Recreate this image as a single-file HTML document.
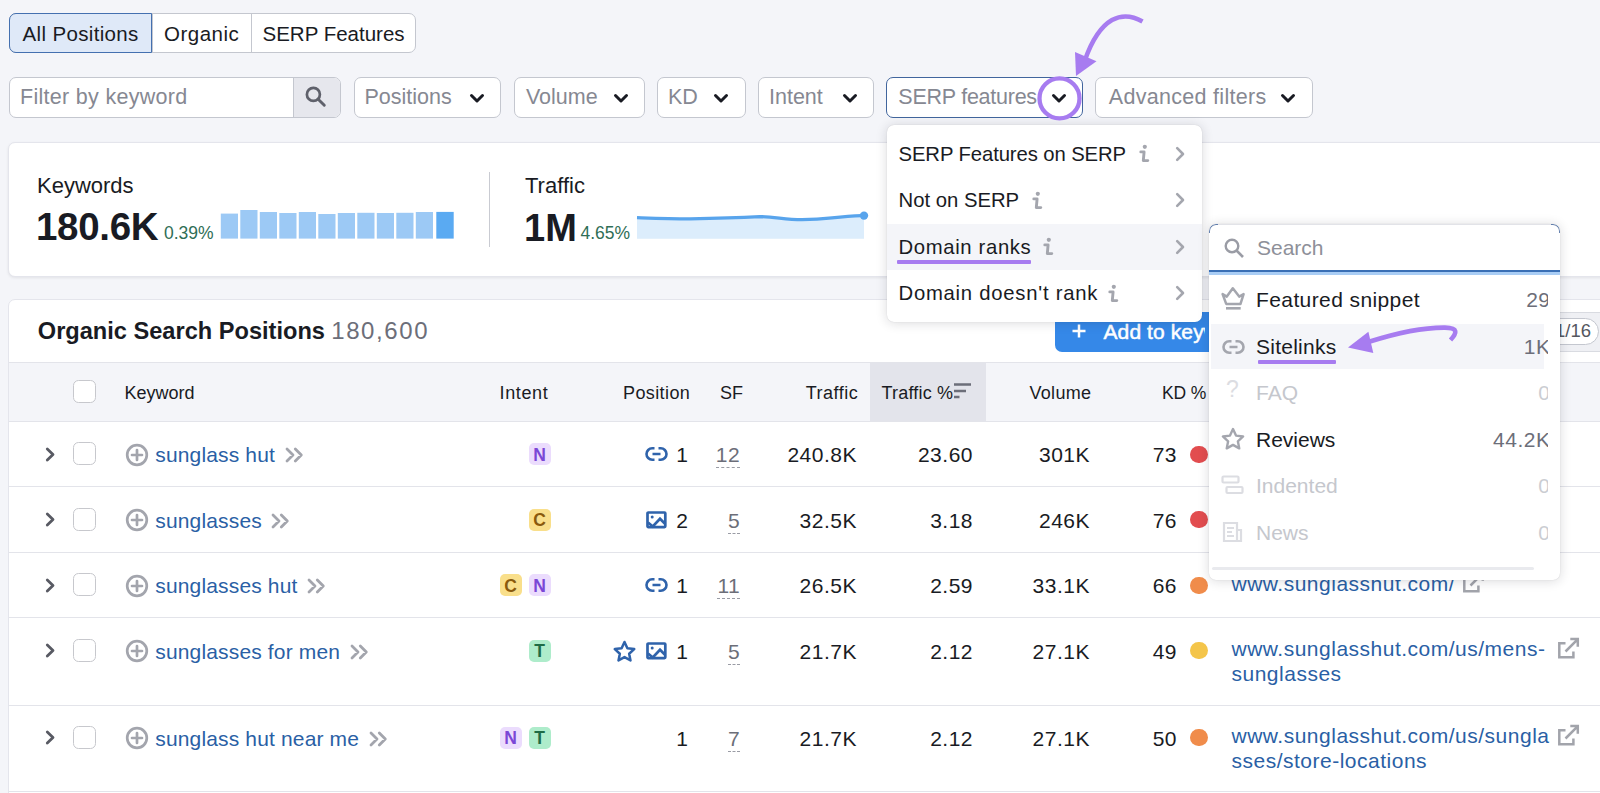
<!DOCTYPE html>
<html><head><meta charset="utf-8"><title>Organic Search Positions</title>
<style>
*{box-sizing:border-box;margin:0;padding:0}
html,body{width:1600px;height:793px;overflow:hidden}
body{background:#f4f5f9;font-family:"Liberation Sans",Arial,sans-serif;color:#191b23;position:relative;font-size:21px}
.abs{position:absolute}
.t{position:absolute;white-space:nowrap;line-height:1}
/* tabs */
.tabs{position:absolute;left:9px;top:12.5px;height:40.5px;display:flex;border:1px solid #c4c7cf;border-radius:7px;background:#fff;overflow:hidden}
.tabs div{display:flex;align-items:center;padding:3px 13px 0;font-size:20.5px;height:100%;border-left:1px solid #c4c7cf;white-space:nowrap}
.tabs div:first-child{border-left:none}
.tabs .on{background:#dfe9f8}
/* filters */
.fb{position:absolute;top:77px;height:40.5px;border:1px solid #c4c7cf;border-radius:7px;background:#fff;display:flex;align-items:center;color:#868892}
.fb span{position:absolute;left:10px;top:9.1px;line-height:21.5px;font-size:21.5px}
.chev{position:absolute;top:14.8px;width:16px;height:11px}
.card{position:absolute;background:#fff;border:1px solid #e4e5ec;border-radius:7px}
</style></head>
<body>
<!-- tabs -->
<div class="tabs">
  <div class="on" style="width:142px;padding-left:12.5px;letter-spacing:0.35px">All Positions</div>
  <div style="width:99px;padding-left:11px;letter-spacing:0.5px">Organic</div>
  <div style="width:164px;padding-left:10.5px">SERP Features</div>
</div>
<div class="abs" style="left:9px;top:12.5px;width:142.5px;height:40.5px;border:1.3px solid #4470b0;border-radius:7px 0 0 7px"></div>

<!-- filter row -->
<div class="fb" style="left:9px;width:332px;overflow:hidden">
  <span style="letter-spacing:0.3px">Filter by keyword</span>
  <div class="abs" style="left:282.5px;top:0;width:48px;height:38.5px;background:#e6e7ed;border-left:1.2px solid #c4c7cf"></div>
  <svg class="abs" style="left:294px;top:7.3px" width="23" height="23" viewBox="0 0 23 23"><circle cx="9.4" cy="9.4" r="6.5" fill="none" stroke="#5f616b" stroke-width="2.7"/><path d="M14.2 14.2 L20.3 20.3" stroke="#5f616b" stroke-width="2.9" stroke-linecap="round"/></svg>
</div>
<div class="fb" style="left:353.5px;width:147px"><span>Positions</span><svg class="chev" style="left:114.1px" viewBox="0 0 16 11"><path d="M2.5 2.5 L8 8 L13.5 2.5" fill="none" stroke="#191b23" stroke-width="3" stroke-linecap="round" stroke-linejoin="round"/></svg></div>
<div class="fb" style="left:513.5px;width:131px"><span style="left:11.4px">Volume</span><svg class="chev" style="left:98.1px" viewBox="0 0 16 11"><path d="M2.5 2.5 L8 8 L13.5 2.5" fill="none" stroke="#191b23" stroke-width="3" stroke-linecap="round" stroke-linejoin="round"/></svg></div>
<div class="fb" style="left:657px;width:89px"><span>KD</span><svg class="chev" style="left:55.3px" viewBox="0 0 16 11"><path d="M2.5 2.5 L8 8 L13.5 2.5" fill="none" stroke="#191b23" stroke-width="3" stroke-linecap="round" stroke-linejoin="round"/></svg></div>
<div class="fb" style="left:758px;width:116px"><span>Intent</span><svg class="chev" style="left:82.8px" viewBox="0 0 16 11"><path d="M2.5 2.5 L8 8 L13.5 2.5" fill="none" stroke="#191b23" stroke-width="3" stroke-linecap="round" stroke-linejoin="round"/></svg></div>
<div class="fb" style="left:886px;width:197px;border-color:#41659d"><span style="left:11.3px;letter-spacing:-0.25px">SERP features</span><svg class="chev" style="left:163.8px" viewBox="0 0 16 11"><path d="M2.5 2.5 L8 8 L13.5 2.5" fill="none" stroke="#191b23" stroke-width="3" stroke-linecap="round" stroke-linejoin="round"/></svg></div>
<div class="fb" style="left:1095px;width:217.5px"><span style="left:12.8px;letter-spacing:0.3px">Advanced filters</span><svg class="chev" style="left:184.4px" viewBox="0 0 16 11"><path d="M2.5 2.5 L8 8 L13.5 2.5" fill="none" stroke="#191b23" stroke-width="3" stroke-linecap="round" stroke-linejoin="round"/></svg></div>

<div class="card" style="left:7.5px;top:142px;width:1620px;height:134.5px;box-shadow:0 1px 3px rgba(0,0,0,.08)"></div>
<div class="t" style="left:37px;top:175px;font-size:22px">Keywords</div>
<div class="t" style="left:36px;top:208px;font-size:38.5px;font-weight:700;letter-spacing:-0.3px">180.6K</div>
<div class="t" style="left:164px;top:225px;font-size:17.5px;color:#2f6e56">0.39%</div>
<svg class="abs" style="left:220px;top:205px" width="236" height="36" viewBox="220 205 236 36">
  <g fill="#9cc9f5">
    <rect x="220.8" y="213.6" width="17.2" height="25"/>
    <rect x="240.3" y="210" width="17.2" height="28.6"/>
    <rect x="259.8" y="212" width="17.2" height="26.6"/>
    <rect x="279.3" y="213" width="17.2" height="25.6"/>
    <rect x="298.8" y="212" width="17.2" height="26.6"/>
    <rect x="318.3" y="214" width="17.2" height="24.6"/>
    <rect x="337.8" y="213" width="17.2" height="25.6"/>
    <rect x="357.3" y="212.8" width="17.2" height="25.8"/>
    <rect x="376.8" y="213" width="17.2" height="25.6"/>
    <rect x="396.3" y="212.8" width="17.2" height="25.8"/>
    <rect x="415.8" y="212" width="17.2" height="26.6"/>
  </g>
  <rect x="436.3" y="211.9" width="17.4" height="26.7" fill="#5aaaf2"/>
</svg>
<div class="abs" style="left:488.7px;top:171.5px;width:1.5px;height:75.5px;background:#c9cbd2"></div>
<div class="t" style="left:525px;top:175px;font-size:22px">Traffic</div>
<div class="t" style="left:524px;top:208.5px;font-size:38px;font-weight:700">1M</div>
<div class="t" style="left:580.5px;top:225px;font-size:17.5px;color:#2f6e56">4.65%</div>
<svg class="abs" style="left:630px;top:205px" width="245" height="40" viewBox="630 205 245 40">
  <path d="M637 217.7 C660 218.5 670 218.9 690 218.9 C720 218.3 740 217.6 759.7 216.6 C775 216.8 785 219.6 801.9 219.7 C815 219.6 822 219 832 217.8 C845 216.5 852 216 864 215.6 L864 238.8 L637 238.8 Z" fill="#dcedfc"/>
  <path d="M637 217.7 C660 218.5 670 218.9 690 218.9 C720 218.3 740 217.6 759.7 216.6 C775 216.8 785 219.6 801.9 219.7 C815 219.6 822 219 832 217.8 C845 216.5 852 216 862 215.6" fill="none" stroke="#58a4ec" stroke-width="3.3"/>
  <circle cx="864" cy="215.6" r="4.2" fill="#58a4ec"/>
</svg>
<div class="card" style="left:7.5px;top:298.5px;width:1620px;height:600px"></div>
<div class="t" style="top:319.52px;font-size:23.6px;left:37.80px;font-weight:700;letter-spacing:0px;">Organic Search Positions</div>
<div class="t" style="top:319.18px;font-size:24px;left:331.20px;color:#6c6e79;letter-spacing:1.6px;">180,600</div>
<div class="abs" style="left:1054.5px;top:311.5px;width:200px;height:40.5px;background:#3588e8;border-radius:7px"></div>
<svg class="abs" style="left:1071px;top:323.3px" width="16" height="16" viewBox="0 0 16 16"><path d="M8 1.5V14.5M1.5 8H14.5" stroke="#fff" stroke-width="2.5"/></svg>
<div class="abs" style="left:1095px;top:315px;width:109.5px;height:32px;overflow:hidden"><div class="t" style="top:6.02px;font-size:21px;left:8.50px;color:#fff;-webkit-text-stroke:0.5px #fff;letter-spacing:0.1px;">Add to keyword list</div></div>
<div class="abs" style="left:1520px;top:311.5px;width:120px;height:40px;background:#eff0f4;border:1px solid #d9dbe1;border-radius:6px"></div>
<div class="abs" style="left:1540px;top:317.8px;width:59px;height:27.5px;background:#fff;border:1px solid #c4c7cf;border-radius:14px"></div>
<div class="t" style="top:322.34px;font-size:18.5px;left:1555.00px;color:#55575f;">1/16</div>
<div class="abs" style="left:9px;top:362px;width:1600px;height:59.5px;background:#f4f5f9;border-top:1px solid #e3e4ea;border-bottom:1px solid #e3e4ea"></div>
<div class="abs" style="left:869.5px;top:363px;width:116px;height:57.5px;background:#e3e4eb"></div>
<div class="abs" style="left:72.9px;top:379.9px;width:22.8px;height:23px;border:1.6px solid #c7c8cd;border-radius:5.5px;background:#fff"></div>
<div class="t" style="top:384.26px;font-size:18px;left:124.50px;">Keyword</div>
<div class="t" style="top:384.26px;font-size:18px;left:499.60px;letter-spacing:0.6px;">Intent</div>
<div class="t" style="top:384.26px;font-size:18px;left:623.00px;letter-spacing:0.4px;">Position</div>
<div class="t" style="top:384.26px;font-size:18px;left:720.00px;">SF</div>
<div class="t" style="top:384.26px;font-size:18px;right:741.80px;text-align:right;letter-spacing:0.5px;">Traffic</div>
<div class="t" style="top:384.26px;font-size:18px;left:881.50px;letter-spacing:0.2px;">Traffic %</div>
<svg class="abs" style="left:953px;top:382px" width="20" height="18" viewBox="0 0 20 18"><path d="M1 2.5H18M1 9H13M1 15H6.5" stroke="#6c6e79" stroke-width="2.6"/></svg>
<div class="t" style="top:384.26px;font-size:18px;right:508.70px;text-align:right;letter-spacing:0.3px;">Volume</div>
<div class="t" style="top:384.69px;font-size:17.5px;right:394.00px;text-align:right;letter-spacing:-0.2px;">KD %</div>
<div class="abs" style="left:9px;top:486.0px;width:1600px;height:1.2px;background:#e3e4ea"></div>
<svg class="abs" style="left:45px;top:446.5px" width="11" height="15" viewBox="0 0 11 15"><path d="M2.3 2L8 7.5L2.3 13" fill="none" stroke="#585a63" stroke-width="2.8" stroke-linecap="round" stroke-linejoin="round"/></svg>
<div class="abs" style="left:72.9px;top:442.4px;width:22.8px;height:23px;border:1.6px solid #c7c8cd;border-radius:5.5px;background:#fff"></div>
<svg class="abs" style="left:125px;top:442.5px" width="24" height="24" viewBox="0 0 24 24"><circle cx="12" cy="12" r="9.8" fill="none" stroke="#a3a5ad" stroke-width="2.7"/><path d="M12 7V17M7 12H17" stroke="#a3a5ad" stroke-width="2.7" stroke-linecap="round"/></svg>
<div class="t" style="top:444.02px;font-size:21px;left:155.30px;color:#2a5fa5;letter-spacing:0.15px;">sunglass hut<svg style="margin-left:9.5px;vertical-align:-1px" width="19" height="16" viewBox="0 0 19 16"><path d="M2 2L8 8L2 14M10.3 2L16.3 8L10.3 14" fill="none" stroke="#a3a5ad" stroke-width="2.8" stroke-linecap="round" stroke-linejoin="round"/></svg></div>
<div class="abs" style="left:528.5px;top:443px;width:22px;height:22px;border-radius:5px;background:#ebdcfd"></div><div class="t" style="top:446.69px;font-size:17.5px;left:539.50px;font-weight:700;color:#7b47d6;transform:translateX(-50%);">N</div>
<svg class="abs" style="left:644.5px;top:446px" width="23" height="16" viewBox="0 0 23 16"><path d="M9.5 2.3H7.2a5.7 5.7 0 0 0 0 11.4H9.5M13.5 2.3H15.8a5.7 5.7 0 0 1 0 11.4H13.5M7.5 8H15.5" fill="none" stroke="#2f63ab" stroke-width="2.6"/></svg>
<div class="t" style="top:444.02px;font-size:21px;right:912.00px;text-align:right;">1</div>
<div class="t" style="top:443.03px;font-size:21px;right:860.00px;text-align:right;color:#6c6e79;letter-spacing:0.4px;border-bottom:1.3px dashed #9a9ca5;padding-bottom:1px;line-height:23px;">12</div>
<div class="t" style="top:444.02px;font-size:21px;right:743.00px;text-align:right;letter-spacing:0.5px;">240.8K</div>
<div class="t" style="top:444.02px;font-size:21px;right:627.00px;text-align:right;letter-spacing:0.5px;">23.60</div>
<div class="t" style="top:444.02px;font-size:21px;right:510.00px;text-align:right;letter-spacing:0.5px;">301K</div>
<div class="t" style="top:444.02px;font-size:21px;right:423.00px;text-align:right;letter-spacing:0.5px;">73</div>
<div class="abs" style="left:1190.4px;top:445.8px;width:17.2px;height:17.2px;border-radius:50%;background:#e24d4f"></div>
<div class="abs" style="left:9px;top:551.5px;width:1600px;height:1.2px;background:#e3e4ea"></div>
<svg class="abs" style="left:45px;top:512.0px" width="11" height="15" viewBox="0 0 11 15"><path d="M2.3 2L8 7.5L2.3 13" fill="none" stroke="#585a63" stroke-width="2.8" stroke-linecap="round" stroke-linejoin="round"/></svg>
<div class="abs" style="left:72.9px;top:507.9px;width:22.8px;height:23px;border:1.6px solid #c7c8cd;border-radius:5.5px;background:#fff"></div>
<svg class="abs" style="left:125px;top:508.0px" width="24" height="24" viewBox="0 0 24 24"><circle cx="12" cy="12" r="9.8" fill="none" stroke="#a3a5ad" stroke-width="2.7"/><path d="M12 7V17M7 12H17" stroke="#a3a5ad" stroke-width="2.7" stroke-linecap="round"/></svg>
<div class="t" style="top:509.52px;font-size:21px;left:155.30px;color:#2a5fa5;letter-spacing:0.15px;">sunglasses<svg style="margin-left:9.5px;vertical-align:-1px" width="19" height="16" viewBox="0 0 19 16"><path d="M2 2L8 8L2 14M10.3 2L16.3 8L10.3 14" fill="none" stroke="#a3a5ad" stroke-width="2.8" stroke-linecap="round" stroke-linejoin="round"/></svg></div>
<div class="abs" style="left:528.5px;top:508.5px;width:22px;height:22px;border-radius:5px;background:#f9df8b"></div><div class="t" style="top:512.19px;font-size:17.5px;left:539.50px;font-weight:700;color:#8a5a0c;transform:translateX(-50%);">C</div>
<svg class="abs" style="left:645.5px;top:510.5px" width="21" height="18" viewBox="0 0 21 18"><rect x="1.5" y="1.5" width="17.8" height="14.6" rx="0.8" fill="none" stroke="#2f63ab" stroke-width="2.7"/><circle cx="6.2" cy="6" r="1.5" fill="#2f63ab"/><path d="M2 11.5L6.8 15.5L14 7.8L19 12.8" fill="none" stroke="#2f63ab" stroke-width="2.7"/></svg>
<div class="t" style="top:509.52px;font-size:21px;right:912.00px;text-align:right;">2</div>
<div class="t" style="top:508.53px;font-size:21px;right:860.00px;text-align:right;color:#6c6e79;letter-spacing:0.4px;border-bottom:1.3px dashed #9a9ca5;padding-bottom:1px;line-height:23px;">5</div>
<div class="t" style="top:509.52px;font-size:21px;right:743.00px;text-align:right;letter-spacing:0.5px;">32.5K</div>
<div class="t" style="top:509.52px;font-size:21px;right:627.00px;text-align:right;letter-spacing:0.5px;">3.18</div>
<div class="t" style="top:509.52px;font-size:21px;right:510.00px;text-align:right;letter-spacing:0.5px;">246K</div>
<div class="t" style="top:509.52px;font-size:21px;right:423.00px;text-align:right;letter-spacing:0.5px;">76</div>
<div class="abs" style="left:1190.4px;top:511.3px;width:17.2px;height:17.2px;border-radius:50%;background:#e24d4f"></div>
<div class="abs" style="left:9px;top:617.0px;width:1600px;height:1.2px;background:#e3e4ea"></div>
<svg class="abs" style="left:45px;top:577.5px" width="11" height="15" viewBox="0 0 11 15"><path d="M2.3 2L8 7.5L2.3 13" fill="none" stroke="#585a63" stroke-width="2.8" stroke-linecap="round" stroke-linejoin="round"/></svg>
<div class="abs" style="left:72.9px;top:573.4px;width:22.8px;height:23px;border:1.6px solid #c7c8cd;border-radius:5.5px;background:#fff"></div>
<svg class="abs" style="left:125px;top:573.5px" width="24" height="24" viewBox="0 0 24 24"><circle cx="12" cy="12" r="9.8" fill="none" stroke="#a3a5ad" stroke-width="2.7"/><path d="M12 7V17M7 12H17" stroke="#a3a5ad" stroke-width="2.7" stroke-linecap="round"/></svg>
<div class="t" style="top:575.02px;font-size:21px;left:155.30px;color:#2a5fa5;letter-spacing:0.15px;">sunglasses hut<svg style="margin-left:9.5px;vertical-align:-1px" width="19" height="16" viewBox="0 0 19 16"><path d="M2 2L8 8L2 14M10.3 2L16.3 8L10.3 14" fill="none" stroke="#a3a5ad" stroke-width="2.8" stroke-linecap="round" stroke-linejoin="round"/></svg></div>
<div class="abs" style="left:499.5px;top:574px;width:22px;height:22px;border-radius:5px;background:#f9df8b"></div><div class="t" style="top:577.69px;font-size:17.5px;left:510.50px;font-weight:700;color:#8a5a0c;transform:translateX(-50%);">C</div>
<div class="abs" style="left:528.5px;top:574px;width:22px;height:22px;border-radius:5px;background:#ebdcfd"></div><div class="t" style="top:577.69px;font-size:17.5px;left:539.50px;font-weight:700;color:#7b47d6;transform:translateX(-50%);">N</div>
<svg class="abs" style="left:644.5px;top:577px" width="23" height="16" viewBox="0 0 23 16"><path d="M9.5 2.3H7.2a5.7 5.7 0 0 0 0 11.4H9.5M13.5 2.3H15.8a5.7 5.7 0 0 1 0 11.4H13.5M7.5 8H15.5" fill="none" stroke="#2f63ab" stroke-width="2.6"/></svg>
<div class="t" style="top:575.02px;font-size:21px;right:912.00px;text-align:right;">1</div>
<div class="t" style="top:574.03px;font-size:21px;right:860.00px;text-align:right;color:#6c6e79;letter-spacing:0.4px;border-bottom:1.3px dashed #9a9ca5;padding-bottom:1px;line-height:23px;">11</div>
<div class="t" style="top:575.02px;font-size:21px;right:743.00px;text-align:right;letter-spacing:0.5px;">26.5K</div>
<div class="t" style="top:575.02px;font-size:21px;right:627.00px;text-align:right;letter-spacing:0.5px;">2.59</div>
<div class="t" style="top:575.02px;font-size:21px;right:510.00px;text-align:right;letter-spacing:0.5px;">33.1K</div>
<div class="t" style="top:575.02px;font-size:21px;right:423.00px;text-align:right;letter-spacing:0.5px;">66</div>
<div class="abs" style="left:1190.4px;top:576.8px;width:17.2px;height:17.2px;border-radius:50%;background:#f08c4b"></div>
<div class="t" style="top:573.22px;font-size:21px;left:1231.50px;color:#2a5fa5;letter-spacing:0.5px;">www.sunglasshut.com/</div>
<svg class="abs" style="left:1462.5px;top:571px" width="22" height="23" viewBox="0 0 22 23"><path d="M7.5 6.2H1.3V20.3H15.4V14.5M7.5 14.5L19.1 2.9M12.3 2H19.8V9.7" fill="none" stroke="#a2a4ab" stroke-width="2.5"/></svg>
<div class="abs" style="left:9px;top:704.5px;width:1600px;height:1.2px;background:#e3e4ea"></div>
<svg class="abs" style="left:45px;top:643.0px" width="11" height="15" viewBox="0 0 11 15"><path d="M2.3 2L8 7.5L2.3 13" fill="none" stroke="#585a63" stroke-width="2.8" stroke-linecap="round" stroke-linejoin="round"/></svg>
<div class="abs" style="left:72.9px;top:638.9px;width:22.8px;height:23px;border:1.6px solid #c7c8cd;border-radius:5.5px;background:#fff"></div>
<svg class="abs" style="left:125px;top:639.0px" width="24" height="24" viewBox="0 0 24 24"><circle cx="12" cy="12" r="9.8" fill="none" stroke="#a3a5ad" stroke-width="2.7"/><path d="M12 7V17M7 12H17" stroke="#a3a5ad" stroke-width="2.7" stroke-linecap="round"/></svg>
<div class="t" style="top:640.52px;font-size:21px;left:155.30px;color:#2a5fa5;letter-spacing:0.15px;">sunglasses for men<svg style="margin-left:9.5px;vertical-align:-1px" width="19" height="16" viewBox="0 0 19 16"><path d="M2 2L8 8L2 14M10.3 2L16.3 8L10.3 14" fill="none" stroke="#a3a5ad" stroke-width="2.8" stroke-linecap="round" stroke-linejoin="round"/></svg></div>
<div class="abs" style="left:528.5px;top:639.5px;width:22px;height:22px;border-radius:5px;background:#aeeccb"></div><div class="t" style="top:643.19px;font-size:17.5px;left:539.50px;font-weight:700;color:#1e6b45;transform:translateX(-50%);">T</div>
<svg class="abs" style="left:612.5px;top:639.5px" width="23" height="22" viewBox="0 0 23 22"><path d="M11.50 2.00L14.38 8.24L21.20 9.05L16.16 13.71L17.50 20.45L11.50 17.10L5.50 20.45L6.84 13.71L1.80 9.05L8.62 8.24Z" fill="none" stroke="#2f63ab" stroke-width="2.5" stroke-linejoin="round"/></svg>
<svg class="abs" style="left:645.5px;top:641.5px" width="21" height="18" viewBox="0 0 21 18"><rect x="1.5" y="1.5" width="17.8" height="14.6" rx="0.8" fill="none" stroke="#2f63ab" stroke-width="2.7"/><circle cx="6.2" cy="6" r="1.5" fill="#2f63ab"/><path d="M2 11.5L6.8 15.5L14 7.8L19 12.8" fill="none" stroke="#2f63ab" stroke-width="2.7"/></svg>
<div class="t" style="top:640.52px;font-size:21px;right:912.00px;text-align:right;">1</div>
<div class="t" style="top:639.53px;font-size:21px;right:860.00px;text-align:right;color:#6c6e79;letter-spacing:0.4px;border-bottom:1.3px dashed #9a9ca5;padding-bottom:1px;line-height:23px;">5</div>
<div class="t" style="top:640.52px;font-size:21px;right:743.00px;text-align:right;letter-spacing:0.5px;">21.7K</div>
<div class="t" style="top:640.52px;font-size:21px;right:627.00px;text-align:right;letter-spacing:0.5px;">2.12</div>
<div class="t" style="top:640.52px;font-size:21px;right:510.00px;text-align:right;letter-spacing:0.5px;">27.1K</div>
<div class="t" style="top:640.52px;font-size:21px;right:423.00px;text-align:right;letter-spacing:0.5px;">49</div>
<div class="abs" style="left:1190.4px;top:642.3px;width:17.2px;height:17.2px;border-radius:50%;background:#f4c54a"></div>
<div class="t" style="top:638.22px;font-size:21px;left:1231.50px;color:#2a5fa5;letter-spacing:0.5px;">www.sunglasshut.com/us/mens-</div>
<div class="t" style="top:663.22px;font-size:21px;left:1231.50px;color:#2a5fa5;letter-spacing:0.5px;">sunglasses</div>
<svg class="abs" style="left:1558px;top:636.5px" width="22" height="23" viewBox="0 0 22 23"><path d="M7.5 6.2H1.3V20.3H15.4V14.5M7.5 14.5L19.1 2.9M12.3 2H19.8V9.7" fill="none" stroke="#a2a4ab" stroke-width="2.5"/></svg>
<div class="abs" style="left:9px;top:791.0px;width:1600px;height:1.2px;background:#e3e4ea"></div>
<svg class="abs" style="left:45px;top:730.0px" width="11" height="15" viewBox="0 0 11 15"><path d="M2.3 2L8 7.5L2.3 13" fill="none" stroke="#585a63" stroke-width="2.8" stroke-linecap="round" stroke-linejoin="round"/></svg>
<div class="abs" style="left:72.9px;top:725.9px;width:22.8px;height:23px;border:1.6px solid #c7c8cd;border-radius:5.5px;background:#fff"></div>
<svg class="abs" style="left:125px;top:726.0px" width="24" height="24" viewBox="0 0 24 24"><circle cx="12" cy="12" r="9.8" fill="none" stroke="#a3a5ad" stroke-width="2.7"/><path d="M12 7V17M7 12H17" stroke="#a3a5ad" stroke-width="2.7" stroke-linecap="round"/></svg>
<div class="t" style="top:727.52px;font-size:21px;left:155.30px;color:#2a5fa5;letter-spacing:0.15px;">sunglass hut near me<svg style="margin-left:9.5px;vertical-align:-1px" width="19" height="16" viewBox="0 0 19 16"><path d="M2 2L8 8L2 14M10.3 2L16.3 8L10.3 14" fill="none" stroke="#a3a5ad" stroke-width="2.8" stroke-linecap="round" stroke-linejoin="round"/></svg></div>
<div class="abs" style="left:499.5px;top:726.5px;width:22px;height:22px;border-radius:5px;background:#ebdcfd"></div><div class="t" style="top:730.19px;font-size:17.5px;left:510.50px;font-weight:700;color:#7b47d6;transform:translateX(-50%);">N</div>
<div class="abs" style="left:528.5px;top:726.5px;width:22px;height:22px;border-radius:5px;background:#aeeccb"></div><div class="t" style="top:730.19px;font-size:17.5px;left:539.50px;font-weight:700;color:#1e6b45;transform:translateX(-50%);">T</div>
<div class="t" style="top:727.52px;font-size:21px;right:912.00px;text-align:right;">1</div>
<div class="t" style="top:726.53px;font-size:21px;right:860.00px;text-align:right;color:#6c6e79;letter-spacing:0.4px;border-bottom:1.3px dashed #9a9ca5;padding-bottom:1px;line-height:23px;">7</div>
<div class="t" style="top:727.52px;font-size:21px;right:743.00px;text-align:right;letter-spacing:0.5px;">21.7K</div>
<div class="t" style="top:727.52px;font-size:21px;right:627.00px;text-align:right;letter-spacing:0.5px;">2.12</div>
<div class="t" style="top:727.52px;font-size:21px;right:510.00px;text-align:right;letter-spacing:0.5px;">27.1K</div>
<div class="t" style="top:727.52px;font-size:21px;right:423.00px;text-align:right;letter-spacing:0.5px;">50</div>
<div class="abs" style="left:1190.4px;top:729.3px;width:17.2px;height:17.2px;border-radius:50%;background:#f08c4b"></div>
<div class="t" style="top:725.22px;font-size:21px;left:1231.50px;color:#2a5fa5;letter-spacing:0.5px;">www.sunglasshut.com/us/sungla</div>
<div class="t" style="top:750.22px;font-size:21px;left:1231.50px;color:#2a5fa5;letter-spacing:0.5px;">sses/store-locations</div>
<svg class="abs" style="left:1558px;top:723.5px" width="22" height="23" viewBox="0 0 22 23"><path d="M7.5 6.2H1.3V20.3H15.4V14.5M7.5 14.5L19.1 2.9M12.3 2H19.8V9.7" fill="none" stroke="#a2a4ab" stroke-width="2.5"/></svg>
<div class="abs" style="left:887px;top:124.5px;width:315px;height:197px;background:#fff;border-radius:7px;box-shadow:0 1px 12px rgba(25,27,35,.16),0 0 1px rgba(25,27,35,.2)"></div>
<div class="abs" style="left:887px;top:223.5px;width:315px;height:46.5px;background:#f4f5f9"></div>
<div class="t" style="top:143.82px;font-size:20.3px;left:898.50px;letter-spacing:-0.1px;">SERP Features on SERP</div>
<svg class="abs" style="left:1138px;top:144px" width="12" height="19" viewBox="0 0 12 19"><circle cx="6.8" cy="2.8" r="2.1" fill="#a4a6ae"/><path d="M2.8 7.9H6.1L5.3 16.6H9.8" fill="none" stroke="#a4a6ae" stroke-width="2.9" stroke-linejoin="round" stroke-linecap="round"/></svg>
<svg class="abs" style="left:1175px;top:145.5px" width="11" height="16" viewBox="0 0 11 16"><path d="M2.2 2.2L8 8L2.2 13.8" fill="none" stroke="#a4a6ae" stroke-width="2.6" stroke-linecap="round" stroke-linejoin="round"/></svg>
<div class="t" style="top:190.32px;font-size:20.3px;left:898.50px;">Not on SERP</div>
<svg class="abs" style="left:1031px;top:190.5px" width="12" height="19" viewBox="0 0 12 19"><circle cx="6.8" cy="2.8" r="2.1" fill="#a4a6ae"/><path d="M2.8 7.9H6.1L5.3 16.6H9.8" fill="none" stroke="#a4a6ae" stroke-width="2.9" stroke-linejoin="round" stroke-linecap="round"/></svg>
<svg class="abs" style="left:1175px;top:192.0px" width="11" height="16" viewBox="0 0 11 16"><path d="M2.2 2.2L8 8L2.2 13.8" fill="none" stroke="#a4a6ae" stroke-width="2.6" stroke-linecap="round" stroke-linejoin="round"/></svg>
<div class="t" style="top:236.82px;font-size:20.3px;left:898.50px;letter-spacing:0.65px;">Domain ranks</div>
<svg class="abs" style="left:1042px;top:237px" width="12" height="19" viewBox="0 0 12 19"><circle cx="6.8" cy="2.8" r="2.1" fill="#a4a6ae"/><path d="M2.8 7.9H6.1L5.3 16.6H9.8" fill="none" stroke="#a4a6ae" stroke-width="2.9" stroke-linejoin="round" stroke-linecap="round"/></svg>
<svg class="abs" style="left:1175px;top:238.5px" width="11" height="16" viewBox="0 0 11 16"><path d="M2.2 2.2L8 8L2.2 13.8" fill="none" stroke="#a4a6ae" stroke-width="2.6" stroke-linecap="round" stroke-linejoin="round"/></svg>
<div class="t" style="top:283.32px;font-size:20.3px;left:898.50px;letter-spacing:0.75px;">Domain doesn't rank</div>
<svg class="abs" style="left:1107px;top:283.5px" width="12" height="19" viewBox="0 0 12 19"><circle cx="6.8" cy="2.8" r="2.1" fill="#a4a6ae"/><path d="M2.8 7.9H6.1L5.3 16.6H9.8" fill="none" stroke="#a4a6ae" stroke-width="2.9" stroke-linejoin="round" stroke-linecap="round"/></svg>
<svg class="abs" style="left:1175px;top:285.0px" width="11" height="16" viewBox="0 0 11 16"><path d="M2.2 2.2L8 8L2.2 13.8" fill="none" stroke="#a4a6ae" stroke-width="2.6" stroke-linecap="round" stroke-linejoin="round"/></svg>
<div class="abs" style="left:897px;top:260px;width:134px;height:4.2px;background:#a77cf0;border-radius:1px"></div>
<div class="abs" style="left:1209px;top:224px;width:350.5px;height:355.5px;background:#fff;border-radius:7px;box-shadow:0 1px 12px rgba(25,27,35,.16),0 0 1px rgba(25,27,35,.2);overflow:hidden"><div class="abs" style="left:0;top:0;width:100%;height:47px;border-top:1px solid #e2e3e8;border-radius:7px 7px 0 0"></div><div class="abs" style="left:0;top:0;width:9px;height:9px;border-left:1.5px solid #41659d;border-top:1.5px solid #41659d;border-top-left-radius:7px;opacity:.8"></div><div class="abs" style="right:0;top:0;width:9px;height:9px;border-right:1.5px solid #41659d;border-top:1.5px solid #41659d;border-top-right-radius:7px;opacity:.8"></div><div class="abs" style="left:0;top:45.5px;width:100%;height:2px;background:#3a6fb5"></div><div class="abs" style="left:0;top:47.5px;width:100%;height:3px;background:#a9cdf5"></div><div class="abs" style="left:2px;top:100px;width:333px;height:45px;background:#f4f5f9"></div><div class="abs" style="left:3px;top:342.5px;width:322px;height:3.5px;border-radius:2px;background:#e9eaee"></div></div>
<svg class="abs" style="left:1223px;top:237px" width="23" height="23" viewBox="0 0 23 23"><circle cx="9" cy="9" r="6.3" fill="none" stroke="#9a9ca5" stroke-width="2.4"/><path d="M13.5 13.5L20 20" stroke="#9a9ca5" stroke-width="2.6"/></svg>
<div class="t" style="top:237.22px;font-size:21px;left:1257.00px;color:#8e9099;">Search</div>
<div class="t" style="top:289.22px;font-size:21px;left:1256.00px;color:#191b23;letter-spacing:0.4px;">Featured snippet</div>
<div class="abs" style="left:1450px;top:288px;width:97.5px;height:26px;overflow:hidden"><div class="t" style="right:-3px;top:1.2px;font-size:21px;color:#6c6e79;letter-spacing:0.5px">29</div></div>
<svg class="abs" style="left:1221px;top:285.5px" width="25" height="25" viewBox="0 0 25 25"><path d="M1.6 8.1L5.2 17.9H19.5L22.6 8.1L18.2 10.6L11.8 2.2L5.8 10.6Z" fill="none" stroke="#a4a6ae" stroke-width="2.5" stroke-linejoin="round"/><path d="M5 22.3H19.7" stroke="#a4a6ae" stroke-width="2.6"/></svg>
<div class="t" style="top:335.72px;font-size:21px;left:1256.00px;color:#191b23;letter-spacing:0.25px;">Sitelinks</div>
<div class="abs" style="left:1450px;top:334.5px;width:97.5px;height:26px;overflow:hidden"><div class="t" style="right:-3px;top:1.2px;font-size:21px;color:#6c6e79;letter-spacing:0.5px">1K</div></div>
<svg class="abs" style="left:1221.5px;top:338.5px" width="23" height="16" viewBox="0 0 23 16"><path d="M9.5 2.3H7.2a5.7 5.7 0 0 0 0 11.4H9.5M13.5 2.3H15.8a5.7 5.7 0 0 1 0 11.4H13.5M7.5 8H15.5" fill="none" stroke="#a4a6ae" stroke-width="2.6"/></svg>
<div class="t" style="top:382.22px;font-size:21px;left:1256.00px;color:#c5c7cd;">FAQ</div>
<div class="abs" style="left:1450px;top:381px;width:97.5px;height:26px;overflow:hidden"><div class="t" style="right:-3px;top:1.2px;font-size:21px;color:#cbcdd2;letter-spacing:0.5px">0</div></div>
<div class="t" style="top:377.53px;font-size:23px;left:1226.00px;color:#dcdde2;">?</div>
<div class="t" style="top:428.72px;font-size:21px;left:1256.00px;color:#191b23;">Reviews</div>
<div class="abs" style="left:1450px;top:427.5px;width:97.5px;height:26px;overflow:hidden"><div class="t" style="right:-3px;top:1.2px;font-size:21px;color:#6c6e79;letter-spacing:0.5px">44.2K</div></div>
<svg class="abs" style="left:1221px;top:427.0px" width="24" height="23" viewBox="0 0 23 22"><path d="M11.50 2.00L14.38 8.24L21.20 9.05L16.16 13.71L17.50 20.45L11.50 17.10L5.50 20.45L6.84 13.71L1.80 9.05L8.62 8.24Z" fill="none" stroke="#a4a6ae" stroke-width="2.3" stroke-linejoin="round"/></svg>
<div class="t" style="top:475.22px;font-size:21px;left:1256.00px;color:#c5c7cd;">Indented</div>
<div class="abs" style="left:1450px;top:474px;width:97.5px;height:26px;overflow:hidden"><div class="t" style="right:-3px;top:1.2px;font-size:21px;color:#cbcdd2;letter-spacing:0.5px">0</div></div>
<svg class="abs" style="left:1221px;top:474.5px" width="24" height="22" viewBox="0 0 24 22"><rect x="1.5" y="1.5" width="16" height="6" rx="1" fill="none" stroke="#dcdde2" stroke-width="2.2"/><rect x="5.5" y="12" width="16" height="6" rx="1" fill="none" stroke="#dcdde2" stroke-width="2.2"/></svg>
<div class="t" style="top:521.72px;font-size:21px;left:1256.00px;color:#c5c7cd;">News</div>
<div class="abs" style="left:1450px;top:520.5px;width:97.5px;height:26px;overflow:hidden"><div class="t" style="right:-3px;top:1.2px;font-size:21px;color:#cbcdd2;letter-spacing:0.5px">0</div></div>
<svg class="abs" style="left:1222px;top:521.0px" width="22" height="23" viewBox="0 0 22 23"><path d="M2 2H15V20H2Z M15 9H19V20H15 M5 7H12M5 11H10M5 15H12" fill="none" stroke="#dcdde2" stroke-width="2.2"/></svg>
<div class="abs" style="left:1257.5px;top:359.7px;width:78.5px;height:4.4px;background:#a77cf0;border-radius:1px"></div>
<svg class="abs" style="left:0;top:0" width="1600" height="793" viewBox="0 0 1600 793"><circle cx="1059.5" cy="98.4" r="20" fill="none" stroke="#a77cf0" stroke-width="4.3"/><path d="M1142.5 21.5C1133 16 1122 14.5 1112 20C1100 27 1092 40 1085 60" fill="none" stroke="#a77cf0" stroke-width="4.5" stroke-linecap="butt"/><path d="M1075 52L1096.5 61.3L1076 76Z" fill="#a77cf0"/><path d="M1450.5 340C1457 333 1458.5 327.8 1445 327.6C1425 327.4 1395 333.5 1369 341.8" fill="none" stroke="#a77cf0" stroke-width="4.6"/><path d="M1348 347.4L1368.4 331.7L1373.3 353.1Z" fill="#a77cf0"/></svg>
</body></html>
